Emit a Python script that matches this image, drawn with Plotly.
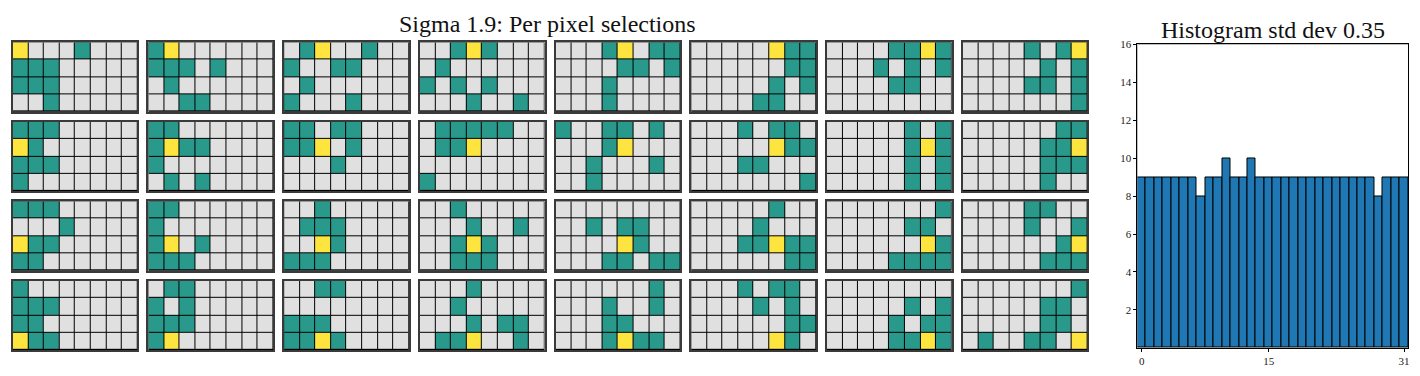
import plotly.graph_objects as go

# ---- data: per-pixel selections (Y = pixel itself, T = selected, . = not selected)
panels_row0 = [
    ["Y...T...", "TTT.....", "TTT.....", "..T....."],
    ["TY......", "TTT.T...", ".T......", "..TT...."],
    [".TY..T..", "T..TT...", ".T......", "T...T..."],
    ["..TYT...", ".T......", "T.T.T...", "...T..T."],
    ["...TY.TT", "....TT.T", "...T....", "...T...."],
    [".....YTT", "......TT", ".....T.T", "....TT.."],
    ["....TTYT", "...T.T.T", "....TT..", "........"],
    ["....T.TY", ".....T.T", "....TT.T", ".......T"],
]
panels_row1 = [
    ["TTT.....", "YT......", "TTT.....", "T......."],
    ["TT......", "TYTT....", "T.......", ".T.T...."],
    ["TT.TT...", "TTY.T...", "...T....", "........"],
    [".TTTTT..", ".TTY....", "........", "T......."],
    ["T..TT.T.", "...TY...", "..T...T.", "..T....."],
    ["...T.TT.", ".....YTT", "...TT...", ".......T"],
    [".....T.T", ".....TYT", ".....T.T", ".....T.T"],
    ["......TT", ".....TTY", ".....TTT", ".....T.."],
]
panels_row2 = [
    ["TTT.....", "...T....", "YTT.....", "TT......"],
    ["TT......", "T.......", "TY.T....", "TTT....."],
    ["..T.....", ".TTT....", "..YT....", "TTT....."],
    ["..T.....", "...T..T.", "..TYT...", "..TTT..."],
    ["........", "..T.TT..", "....YT..", "...TT.TT"],
    [".....T..", "....T...", "...TTYTT", "......TT"],
    [".......T", ".....TT.", "......YT", "....TTTT"],
    ["....TT..", "....T..T", "......TY", ".....TTT"],
]
panels_row3 = [
    ["T.......", "TTT.....", "TT......", "YTT....."],
    [".TT.....", "T.T.....", "TTT.....", "TY......"],
    ["..TT....", "........", "TTT.....", "TTYT...."],
    ["...T....", "..T.....", "...T.TT.", ".TTY..T."],
    ["......T.", "...T..T.", "...TT...", "...TYTT."],
    ["...T.TT.", "....T.T.", "......TT", ".....YT."],
    ["........", ".....T.T", "....T.TT", "....TTYT"],
    [".......T", ".....TT.", ".....TT.", ".T..TT.Y"],
]
panel_rows = [panels_row0, panels_row1, panels_row2, panels_row3]

hist_bins = list(range(32))
hist_counts = [9, 9, 9, 9, 9, 9, 9, 8, 9, 9, 10, 9, 9, 10, 9, 9,
               9, 9, 9, 9, 9, 9, 9, 9, 9, 9, 9, 9, 8, 9, 9, 9]
hist_xticks = [0, 15, 31]
hist_yticks = [2, 4, 6, 8, 10, 12, 14, 16]

main_title = "Sigma 1.9: Per pixel selections"
hist_title = "Histogram std dev 0.35"

# ---- styling / layout (page body has an 8px margin, so the figure is offset)
OFF = 8
W, H = 1420 - OFF, 376 - OFF
GRAY, TEAL, YELLOW = "#e0e0e0", "#29998b", "#fde43e"
code = {".": 0, "T": 1, "Y": 2}
cscale = [[0, GRAY], [0.3333, GRAY], [0.3333, TEAL], [0.6667, TEAL],
          [0.6667, YELLOW], [1, YELLOW]]
FONT = "Liberation Serif"

left0, pitch_x, cell_w = 12.7 - OFF, 135.8, 124.8
top0, pitch_y, cell_h = 36.8 - OFF, 80.8, 70.6

fig = go.Figure()
layout = {}
n = 0
for r, row in enumerate(panel_rows):
    for c, panel in enumerate(row):
        n += 1
        z = [[code[ch] for ch in line] for line in panel]
        xa = "x" if n == 1 else f"x{n}"
        ya = "y" if n == 1 else f"y{n}"
        fig.add_trace(go.Heatmap(
            z=z, xaxis=xa, yaxis=ya, colorscale=cscale, zmin=0, zmax=2,
            showscale=False, xgap=1, ygap=1, hoverinfo="skip"))
        x0 = (left0 + c * pitch_x) / W
        x1 = (left0 + c * pitch_x + cell_w) / W
        ytop = top0 + r * pitch_y
        y1 = 1 - ytop / H
        y0 = 1 - (ytop + cell_h) / H
        key = "" if n == 1 else str(n)
        layout["xaxis" + key] = dict(
            domain=[x0, x1], anchor=ya, range=[-0.5, 7.5], showticklabels=False,
            showgrid=False, zeroline=False, ticks="", showline=True, mirror=True,
            linecolor="#3a3a3a", linewidth=1.5, fixedrange=True)
        layout["yaxis" + key] = dict(
            domain=[y0, y1], anchor=xa, range=[3.5, -0.5], showticklabels=False,
            showgrid=False, zeroline=False, ticks="", showline=True, mirror=True,
            linecolor="#3a3a3a", linewidth=1.5, fixedrange=True)

# histogram
n += 1
hx, hy = f"x{n}", f"y{n}"
fig.add_trace(go.Bar(
    x=hist_bins, y=hist_counts, width=1, xaxis=hx, yaxis=hy,
    marker=dict(color="#1f77b4", line=dict(color="black", width=1)),
    hoverinfo="skip"))
hl, hr, ht, hb = 1138.3 - OFF, 1409.3 - OFF, 39.0 - OFF, 347.3 - OFF
layout[f"xaxis{n}"] = dict(
    domain=[hl / W, hr / W], anchor=hy, range=[-0.5, 31.5], tickvals=hist_xticks,
    ticks="outside", ticklen=3, tickwidth=0.8, tickcolor="black",
    showgrid=False, zeroline=False, showline=True, mirror=True,
    linecolor="black", linewidth=1, tickfont=dict(family=FONT, size=11, color="#222"))
layout[f"yaxis{n}"] = dict(
    domain=[1 - hb / H, 1 - ht / H], anchor=hx, range=[0, 16], tickvals=hist_yticks,
    ticks="outside", ticklen=3, tickwidth=0.8, tickcolor="black",
    showgrid=False, zeroline=False, showline=True, mirror=True,
    linecolor="black", linewidth=1, tickfont=dict(family=FONT, size=11, color="#222"))

fig.update_layout(
    width=W, height=H, margin=dict(l=0, r=0, t=0, b=0),
    paper_bgcolor="white", plot_bgcolor="black", showlegend=False, bargap=0,
    **layout)

# white background behind the histogram
fig.add_shape(type="rect", xref=f"x{n} domain", yref=f"y{n} domain",
              x0=0, x1=1, y0=0, y1=1, fillcolor="white", line_width=0, layer="below")

fig.add_annotation(text=main_title, xref="paper", yref="paper",
                   x=(548 - OFF) / W, y=1 - (18 - OFF) / H, showarrow=False,
                   font=dict(family=FONT, size=24, color="#111"), xanchor="center", yanchor="middle")
fig.add_annotation(text=hist_title, xref="paper", yref="paper",
                   x=(hl + hr) / 2 / W, y=1 - (24 - OFF) / H, showarrow=False,
                   font=dict(family=FONT, size=24, color="#111"), xanchor="center", yanchor="middle")

fig.write_html("out.html")
